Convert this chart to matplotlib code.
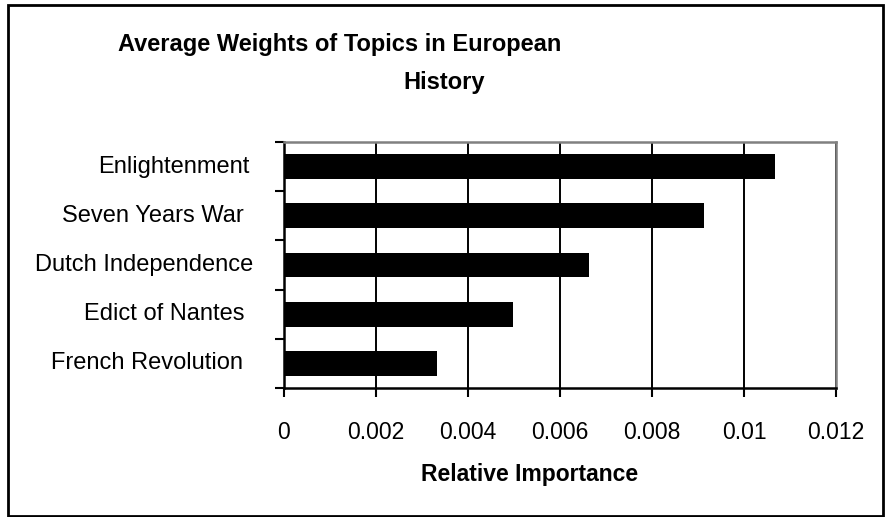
import numpy as np
import matplotlib.pyplot as plt
from matplotlib.patches import Rectangle
from matplotlib.transforms import blended_transform_factory

topics = ["French Revolution", "Edict of Nantes", "Dutch Independence",
          "Seven Years War", "Enlightenment"]
weights = [0.00333, 0.00498, 0.00662, 0.00912, 0.01067]
xticks = [0, 0.002, 0.004, 0.006, 0.008, 0.01, 0.012]
xtick_labels = ["0", "0.002", "0.004", "0.006", "0.008", "0.01", "0.012"]

plt.rcParams["font.family"] = ["Liberation Sans", "DejaVu Sans"]

W, H = 885, 517
fig = plt.figure(figsize=(W / 100, H / 100), dpi=100)
ax = fig.add_axes([284 / W, 1 - 388 / H, 552 / W, 246 / H])

y = np.arange(len(topics))
ax.barh(y, weights, height=0.5, color="black", zorder=3)
ax.set_ylim(-0.5, len(topics) - 0.5)
ax.set_xlim(0, 0.012)

ax.set_xticks(xticks)
ax.set_xticklabels(xtick_labels, fontsize=16.5)
ax.set_yticks(np.arange(len(topics) + 1) - 0.5)
ax.set_yticklabels([])
ax.tick_params(axis="both", direction="out", length=6.5, width=1.5, color="black")
ax.tick_params(axis="x", pad=17)
ax.xaxis.grid(True, color="black", linewidth=1.4, zorder=1)

for side in ["left", "bottom"]:
    ax.spines[side].set_color("black")
    ax.spines[side].set_linewidth(1.8)
for side in ["top", "right"]:
    ax.spines[side].set_color("#808080")
    ax.spines[side].set_linewidth(1.8)

# category labels, right edges as placed in the original
right_edges = [243, 245, 253, 244, 250]
lab_tr = blended_transform_factory(fig.transFigure, ax.transData)
for yi, name, xr in zip(y, topics, right_edges):
    ax.text(xr / W, yi, name, transform=lab_tr,
            ha="right", va="center", fontsize=17)

fig.text(340 / W, 1 - 45 / H, "Average Weights of Topics in European",
         ha="center", va="center", fontsize=17, fontweight="bold")
fig.text(444 / W, 1 - 83 / H, "History",
         ha="center", va="center", fontsize=17, fontweight="bold")
fig.text(530 / W, 1 - 475 / H, "Relative Importance",
         ha="center", va="center", fontsize=16.5, fontweight="bold")

fig.patches.append(Rectangle((8 / W, 1 - 516 / H), 875 / W, 511 / H,
                             transform=fig.transFigure, fill=False,
                             edgecolor="black", linewidth=2))

plt.savefig("out.png", dpi=100)
